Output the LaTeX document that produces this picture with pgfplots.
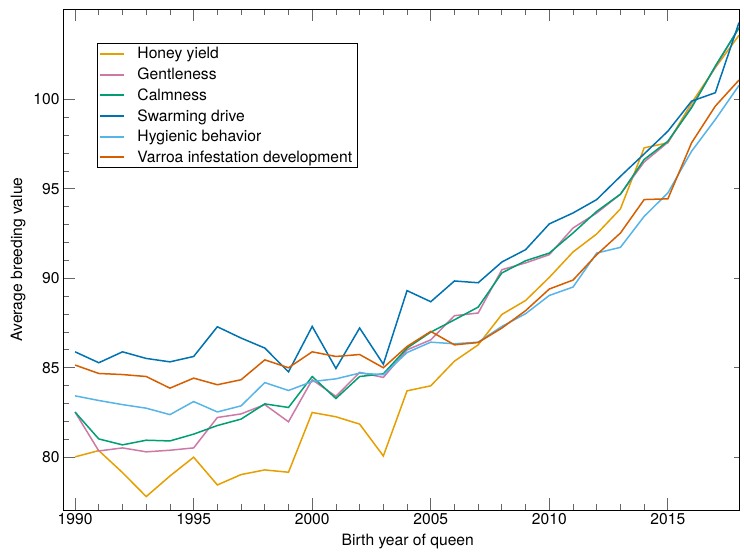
\documentclass[border=0pt]{standalone}
\usepackage{pgfplots}
\pgfplotsset{compat=1.18}
\usepackage{pgfplotstable}
\usepackage{fontspec}
\setmainfont{TeX Gyre Heros}
\definecolor{cHoney}{HTML}{E69F00}
\definecolor{cGentle}{HTML}{CC79A7}
\definecolor{cCalm}{HTML}{009E73}
\definecolor{cSwarm}{HTML}{0072B2}
\definecolor{cHyg}{HTML}{56B4E9}
\definecolor{cVarroa}{HTML}{D55E00}
\pgfplotstableread{
year honey gentle calm swarm hyg varroa
1990 80.02 82.52 82.52 85.89 83.43 85.15
1991 80.37 80.35 81.02 85.28 83.17 84.68
1992 79.14 80.52 80.69 85.89 82.94 84.62
1993 77.80 80.30 80.95 85.52 82.74 84.51
1994 78.95 80.39 80.91 85.33 82.38 83.86
1995 80.00 80.52 81.29 85.63 83.11 84.42
1996 78.45 82.22 81.77 87.29 82.53 84.05
1997 79.03 82.42 82.13 86.66 82.87 84.33
1998 79.29 82.94 82.98 86.10 84.17 85.44
1999 79.16 81.98 82.78 84.77 83.73 85.00
2000 82.50 84.33 84.51 87.31 84.23 85.89
2001 82.26 83.40 83.28 84.96 84.38 85.63
2002 81.85 84.74 84.51 87.22 84.70 85.74
2003 80.07 84.46 84.66 85.20 84.61 85.00
2004 83.71 86.00 86.10 89.31 85.85 86.19
2005 83.99 86.56 86.99 88.69 86.43 87.03
2006 85.37 87.91 87.68 89.85 86.34 86.28
2007 86.28 88.06 88.39 89.75 86.43 86.41
2008 87.98 90.48 90.30 90.91 87.31 87.22
2009 88.76 90.86 90.98 91.60 88.02 88.19
2010 90.05 91.32 91.41 93.04 89.04 89.40
2011 91.47 92.81 92.53 93.65 89.51 89.90
2012 92.48 93.65 93.74 94.40 91.41 91.32
2013 93.88 94.70 94.70 95.70 91.73 92.53
2014 97.29 96.50 96.64 96.95 93.46 94.40
2015 97.57 97.60 97.66 98.22 94.77 94.44
2016 99.80 99.60 99.53 99.90 97.10 97.57
2017 101.77 101.80 101.86 100.37 98.87 99.62
2018 103.58 104.00 104.00 104.29 100.78 101.08
}\datatable
\begin{document}
\begin{tikzpicture}
\pgfplotsset{
  common/.style={
    scale only axis, width=676bp, height=501bp,
    xmin=1989.49, xmax=2018, ymin=77.05, ymax=105.05,
  }
}
\begin{axis}[
  common,
  font=\fontsize{15.7}{18.5}\selectfont,
  /pgf/number format/assume math mode=true,
  xtick={1990,1995,...,2015},
  minor x tick num=4,
  ytick={80,85,...,100},
  minor y tick num=4,
  xtick pos=both, ytick pos=left,
  tick align=inside,
  major tick length=12bp, minor tick length=6.5bp,
  every tick/.style={black!60, line width=0.8bp},
  axis line style={black, line width=0.9bp},
  x tick label style={/pgf/number format/1000 sep={}},
  xlabel={Birth year of queen},
  ylabel={Average breeding value},
  xlabel style={at={(axis description cs:0.51,-0.07)}, anchor=base},
  ylabel style={at={(axis description cs:-0.0664,0.5)}, anchor=center},
  legend style={at={(axis description cs:0.0497,0.9315)}, anchor=north west,
    draw=black, line width=0.8bp, font=\fontsize{15.7}{18.5}\selectfont,
    inner xsep=3bp, inner ysep=1.8bp, row sep=3.6bp, cells={anchor=west}},
  legend image code/.code={\fill[#1, draw=none] (0bp,-1bp) rectangle (24bp,1bp); \path[draw=none, fill=none] (0bp,0bp) -- (35.5bp,0bp);},
]
\coordinate (SW) at (rel axis cs:0,0);
\coordinate (NE) at (rel axis cs:1,1);
\addplot[cHoney, line width=1.5bp] table[x=year,y=honey]{\datatable};
\addlegendentry{Honey yield}
\addplot[cGentle, line width=1.5bp] table[x=year,y=gentle]{\datatable};
\addlegendentry{Gentleness}
\addplot[cCalm, line width=1.5bp] table[x=year,y=calm]{\datatable};
\addlegendentry{Calmness}
\addplot[cSwarm, line width=1.5bp] table[x=year,y=swarm]{\datatable};
\addlegendentry{Swarming drive}
\addplot[cHyg, line width=1.5bp] table[x=year,y=hyg]{\datatable};
\addlegendentry{Hygienic behavior}
\addplot[cVarroa, line width=1.5bp] table[x=year,y=varroa]{\datatable};
\addlegendentry{Varroa infestation development\hspace{2bp}}
\end{axis}
\begin{axis}[
  common,
  hide x axis,
  axis y line*=right,
  axis line style={draw=none},
  ytick={80,85,...,100}, yticklabels={},
  tick align=inside, major tick length=5bp,
  every tick/.style={black!60, line width=0.8bp},
]
\end{axis}
\pgfresetboundingbox
\path[use as bounding box] ([xshift=-63bp,yshift=-42bp]SW) rectangle ([xshift=5bp,yshift=9bp]NE);
\end{tikzpicture}
\end{document}
